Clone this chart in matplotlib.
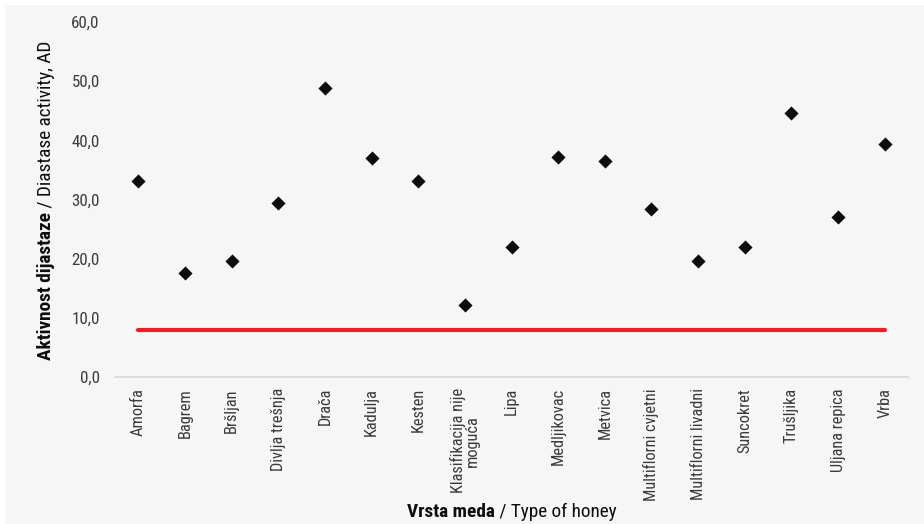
import matplotlib
matplotlib.use("Agg")
import matplotlib.pyplot as plt
from matplotlib.patches import Rectangle
from matplotlib import font_manager

honey_types = [
    "Amorfa", "Bagrem", "Bršljan", "Divlja trešnja", "Drača", "Kadulja",
    "Kesten", "Klasifikacija nije\nmoguća", "Lipa", "Medljikovac", "Metvica",
    "Multiflorni cvjetni", "Multiflorni livadni", "Suncokret", "Trušljika",
    "Uljana repica", "Vrba",
]
diastase = [33.1, 17.6, 19.6, 29.4, 48.9, 37.0, 33.1, 12.2, 22.0, 37.2,
            36.5, 28.4, 19.6, 22.0, 44.6, 27.0, 39.4]
limit_value = 8.0
y_ticks = [0, 10, 20, 30, 40, 50, 60]

available = {f.name for f in font_manager.fontManager.ttflist}
family = next((n for n in ["Roboto Condensed", "Liberation Sans Narrow", "Archivo Narrow",
                           "PT Sans Narrow", "Liberation Sans"] if n in available), "DejaVu Sans")
fonts = [family, "DejaVu Sans"]
plt.rcParams["font.family"] = fonts

W, H = 924, 524
bg = "#f6f6f6"
fig = plt.figure(figsize=(W / 100, H / 100), dpi=100, facecolor="white")
fig.patches.append(Rectangle((5 / W, 0), 1, 1 - 5 / H, transform=fig.transFigure,
                             facecolor=bg, edgecolor="none", zorder=-10))

ax = fig.add_axes([115 / W, 1 - 377 / H, (908 - 115) / W, (377 - 22) / H])
ax.set_facecolor(bg)

x = list(range(len(honey_types)))
ax.plot([x[0], x[-1]], [limit_value, limit_value], color="#ee1c25", lw=3.0,
        solid_capstyle="round", zorder=2)
ax.scatter(x, diastase, marker="D", s=52, color="#0d0d0d", zorder=3, linewidths=0)

ax.set_xlim(-0.5, len(honey_types) - 0.5)
ax.set_ylim(0, 60)
ax.set_yticks(y_ticks)
ax.set_yticklabels([f"{v:.1f}".replace(".", ",") for v in y_ticks],
                   fontsize=12.2, color="#3a3a3a")
ax.set_xticks(x)
ax.set_xticklabels(honey_types, rotation=90, fontsize=11.8, color="#3a3a3a",
                   va="top", ha="center", linespacing=0.95)
ax.tick_params(axis="both", length=0)
ax.tick_params(axis="y", pad=11)
ax.tick_params(axis="x", pad=8)

for s in ["top", "right", "left"]:
    ax.spines[s].set_visible(False)
ax.spines["bottom"].set_color("#d9d9d9")
ax.spines["bottom"].set_linewidth(1.2)

fig.canvas.draw()
renderer = fig.canvas.get_renderer()


def two_part_title(bold_text, plain_text, center_px, cross_px, vertical):
    """Place a title whose first part is bold, centred at center_px along its run."""
    kw = dict(fontsize=13.9, color="#0d0d0d")
    rot = 90 if vertical else 0
    a = fig.text(0, 0, bold_text, fontweight="bold", rotation=rot, **kw)
    b = fig.text(0, 0, plain_text, rotation=rot, **kw)
    la = a.get_window_extent(renderer)
    lb = b.get_window_extent(renderer)
    if vertical:
        total = la.height + lb.height
        start = center_px - total / 2  # bottom, pixels from bottom of figure
        a.set_position((cross_px / W, start / H))
        a.set_ha("center"); a.set_va("bottom")
        b.set_position((cross_px / W, (start + la.height) / H))
        b.set_ha("center"); b.set_va("bottom")
    else:
        total = la.width + lb.width
        start = center_px - total / 2
        a.set_position((start / W, cross_px / H))
        a.set_ha("left"); a.set_va("baseline")
        b.set_position(((start + la.width) / W, cross_px / H))
        b.set_ha("left"); b.set_va("baseline")


two_part_title("Aktivnost dijastaze", " / Diastase activity, AD",
               center_px=H - 200, cross_px=46, vertical=True)
two_part_title("Vrsta meda", " / Type of honey",
               center_px=512, cross_px=H - 517, vertical=False)

fig.savefig("out.png", dpi=100, facecolor=fig.get_facecolor())
